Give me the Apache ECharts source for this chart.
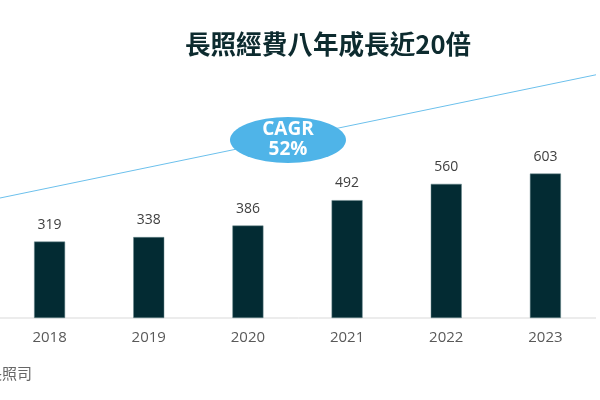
<!DOCTYPE html>
<html>
<head>
<meta charset="utf-8">
<script src="https://cdn.jsdelivr.net/npm/echarts@6/dist/echarts.min.js"></script>
<style>html,body{margin:0;padding:0;background:#fff}#c{width:600px;height:400px}</style>
</head>
<body>
<div id="c"></div>
<script>
const years = ['2018', '2019', '2020', '2021', '2022', '2023'];
const spending = [319, 338, 386, 492, 560, 603];
const trendX = [0, 1.0084];
const trendY = [501, 1019];
const baselineY = [0, 0];
const cagrPoint = [0.484, 743];
const cagrLabel = 'CAGR\n52%';
const titleText = '長照經費八年成長近20倍';
const sourceText = '資料來源：衛福部長照司';

const chart = echarts.init(document.getElementById('c'), null, {renderer: 'canvas'});
chart.setOption({
  animation: false,
  title: {
    text: titleText,
    left: 323, top: 26,
    textAlign: 'center',
    textStyle: {fontFamily: 'Noto Sans CJK TC', fontSize: 25.6, fontWeight: 'bold', color: '#0d2b2f'}
  },
  graphic: [{
    type: 'text',
    x: 32, y: 373,
    style: {text: sourceText, align: 'right', verticalAlign: 'middle', fontFamily: 'Noto Sans CJK TC', fontSize: 15, fill: '#666'}
  }],
  grid: {left: 0, right: 5, top: 318 - 1100 * 0.2395, bottom: 82, containLabel: false},
  xAxis: [{
    type: 'category', data: years,
    axisLine: {show: false},
    axisTick: {show: false},
    axisLabel: {fontFamily: 'Open Sans', fontSize: 15, color: '#595959', margin: 12}
  }, {
    type: 'value', min: 0, max: 1, show: false
  }],
  yAxis: {type: 'value', min: 0, max: 1100, show: false, splitLine: {show: false}},
  series: [{
    type: 'line', xAxisIndex: 1, yAxisIndex: 0,
    data: trendX.map((x, i) => [x, baselineY[i]]),
    symbol: 'none', clip: false, silent: true,
    lineStyle: {color: '#d9d9d9', width: 1},
    z: 1
  }, {
    type: 'bar', data: spending, barWidth: 31,
    itemStyle: {color: '#032b33', borderColor: '#6b8a8f', borderWidth: 0.5},
    label: {show: true, position: 'top', distance: 10, fontFamily: 'Open Sans', fontSize: 14, color: '#404040'},
    z: 3
  }, {
    type: 'line', xAxisIndex: 1, yAxisIndex: 0,
    data: trendX.map((x, i) => [x, trendY[i]]),
    symbol: 'none', clip: false,
    lineStyle: {color: '#6cc0ec', width: 1},
    z: 2,
    markPoint: {
      symbol: 'circle', symbolSize: [116, 46],
      itemStyle: {color: '#4fb4e8'},
      label: {show: true, formatter: cagrLabel, color: '#fff', fontFamily: 'Open Sans', fontWeight: 'bold', fontSize: 19, lineHeight: 20},
      data: [{coord: cagrPoint}]
    }
  }]
});
</script>
</body>
</html>
